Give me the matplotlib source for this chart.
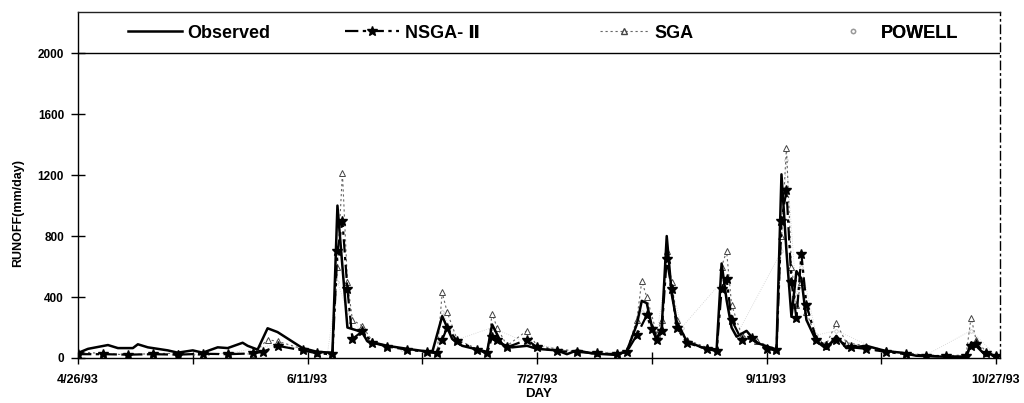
import matplotlib
matplotlib.use("Agg")
import matplotlib.pyplot as plt
from matplotlib.lines import Line2D

# ---- data (day offset from 4/26/93, runoff mm/day) ----
obs_days = [0, 2, 6, 8, 11, 12, 14, 18, 20, 23, 25, 28, 30, 33, 34, 36, 38, 40, 45, 48,
            51, 52, 54, 56, 57, 58, 62, 66, 71, 73, 75, 77, 82, 83, 85, 87, 90, 92, 96, 98,
            100, 103, 108, 110, 112, 113, 114, 115, 116, 117, 118, 119, 120, 122, 125, 128,
            129, 130, 131, 132, 134, 136, 140, 141, 142, 143, 144, 145, 146, 148, 150, 152,
            154, 158, 162, 165, 168, 172, 178, 179, 180, 182, 183, 184]
obs_vals = [33, 60, 85, 65, 65, 90, 70, 50, 35, 50, 35, 70, 65, 100, 80, 55, 195, 170, 65, 40,
            35, 1000, 200, 180, 165, 110, 80, 60, 38, 275, 125, 80, 40, 220, 90, 70, 80, 60, 50, 25,
            50, 30, 20, 45, 220, 375, 360, 210, 125, 200, 800, 420, 240, 110, 70, 55,
            620, 380, 200, 140, 178, 100, 55, 1205, 700, 270, 570, 520, 250, 110, 60, 145,
            65, 80, 45, 35, 15, 10, 5, 100, 80, 15, 25, 0]

nsga_days = [0, 5, 10, 15, 20, 25, 30, 35, 37, 40, 45, 48, 51, 52, 53, 54, 55, 57, 59, 62,
             66, 70, 72, 73, 74, 76, 80, 82, 83, 84, 86, 90, 92, 96, 100, 104, 108, 110, 112,
             114, 115, 116, 117, 118, 119, 120, 122, 126, 128, 129, 130, 131, 133, 135, 138,
             140, 141, 142, 143, 144, 145, 146, 148, 150, 152, 155, 158, 162, 166, 170, 174,
             178, 179, 180, 182, 184]
nsga_vals = [25, 25, 22, 25, 22, 28, 25, 30, 40, 80, 50, 30, 25, 700, 900, 450, 125, 175, 100, 75,
             55, 40, 30, 120, 200, 110, 55, 30, 140, 120, 70, 120, 70, 45, 40, 30, 25, 40, 150,
             280, 190, 120, 180, 650, 450, 200, 100, 60, 45, 450, 520, 250, 120, 130, 60,
             50, 900, 1100, 500, 260, 680, 350, 120, 80, 120, 70, 60, 40, 25, 15, 10,
             10, 80, 90, 30, 10]

sga_days = [0, 5, 10, 15, 20, 25, 30, 35, 38, 40, 45, 48, 51, 52, 53, 54, 55, 57, 59, 62,
            66, 70, 72, 73, 74, 76, 80, 82, 83, 84, 86, 90, 92, 96, 100, 104, 108, 110, 112,
            113, 114, 116, 117, 118, 119, 120, 122, 126, 128, 129, 130, 131, 133, 136, 140,
            141, 142, 143, 144, 145, 146, 148, 150, 152, 154, 158, 162, 166, 170, 174, 178,
            179, 180, 182, 184]
sga_vals = [40, 30, 20, 30, 30, 15, 35, 25, 120, 110, 60, 35, 30, 600, 1215, 500, 250, 210, 110, 80,
            60, 45, 40, 430, 300, 120, 60, 40, 290, 200, 80, 180, 80, 60, 45, 35, 30, 50, 250,
            505, 400, 160, 250, 700, 500, 250, 120, 70, 60, 600, 700, 350, 150, 110, 60,
            800, 1380, 600, 350, 500, 300, 130, 90, 230, 100, 80, 50, 30, 20, 15, 20,
            265, 120, 40, 20]

powell_days = [0, 10, 20, 30, 40, 50, 52, 54, 58, 65, 72, 73, 76, 83, 90, 100, 110, 113, 116,
               118, 121, 129, 132, 141, 142, 144, 145, 148, 152, 160, 170, 179, 184]
powell_vals = [30, 25, 20, 30, 90, 30, 500, 300, 120, 60, 35, 300, 120, 200, 100, 40, 40, 300, 150,
               600, 200, 500, 150, 700, 1300, 400, 600, 150, 180, 60, 20, 180, 15]

tick_days = [0, 23, 46, 69, 92, 115, 138, 161, 184]
tick_labels = ['4/26/93', '', '6/11/93', '', '7/27/93', '', '9/11/93', '', '10/27/93']
y_ticks = [0, 400, 800, 1200, 1600, 2000]

plt.rcParams['font.family'] = ['Liberation Sans', 'DejaVu Sans', 'Noto Sans CJK SC']
plt.rcParams['font.weight'] = 'bold'

fig = plt.figure(figsize=(10.24, 4.03), dpi=100)
ax = fig.add_axes([78 / 1024, 1 - 358 / 403, (1000 - 78) / 1024, (358 - 12) / 403])

ax.plot(powell_days, powell_vals, color='#d0d0d0', ls=':', lw=0.6, marker='o', ms=2.5,
        mfc='white', mec='#c0c0c0', mew=0.5, zorder=1)
ax.plot(sga_days, sga_vals, color='#666666', ls=(0, (2, 2.5)), lw=0.8, marker='^', ms=4,
        mfc='white', mec='#444444', mew=0.7, zorder=2)
ax.plot(nsga_days, nsga_vals, color='black', ls=(0, (6, 2, 1.5, 2)), lw=1.6, marker='*', ms=7,
        zorder=3)
ax.plot(obs_days, obs_vals, color='black', lw=1.8, zorder=4)

ax.set_xlim(0, 184.8)
ax.set_ylim(0, 2270)
ax.set_xticks(tick_days)
ax.set_xticklabels(tick_labels, fontsize=9, fontweight='bold')
ax.set_yticks(y_ticks)
ax.set_yticklabels([str(v) for v in y_ticks], fontsize=8.5, fontweight='bold')
ax.tick_params(axis='x', direction='inout', length=9, width=1, pad=7)
ax.tick_params(axis='y', direction='inout', length=10, width=1, pad=5)

ax.axhline(2000, color='black', lw=1, zorder=5)
for s in ['left', 'bottom', 'top']:
    ax.spines[s].set_linewidth(1)
ax.spines['top'].set_color('#222222')
ax.spines['right'].set_linestyle((0, (6, 3, 1, 3)))
ax.spines['right'].set_linewidth(1)

ax.set_xlabel('DAY', fontsize=9.5, fontweight='bold')
ax.xaxis.set_label_coords(0.5, -0.088)
ax.set_ylabel('RUNOFF(mm/day)', fontsize=9, fontweight='bold')
ax.yaxis.set_label_coords(-0.058, 0.42)

# legend band above the 2000 line
entries = [
    (Line2D([], [], color='black', lw=1.8), 'Observed', 128, 3.0),
    (Line2D([], [], color='black', ls=(0, (6, 2, 1.5, 2)), lw=1.6, marker='*', ms=7),
     'NSGA- Ⅱ', 345, 3.0),
    (Line2D([], [], color='#666666', ls=(0, (2, 2.5)), lw=0.8, marker='^', ms=5, mfc='white',
            mec='#444444'), 'SGA', 600, 2.7),
    (Line2D([], [], color='#b5b5b5', ls='None', marker='o', ms=3, mfc='white', mec='#999999'),
     'POWELL', 830, 2.5),
]
for handle, label, px, hl in entries:
    xa = (px - 78) / (1000 - 78)
    leg = ax.legend([handle], [label], loc='center left', bbox_to_anchor=(xa, 0.939),
                    frameon=False, borderpad=0, borderaxespad=0, handlelength=hl,
                    handletextpad=0.3, prop={'size': 13, 'weight': 'bold'})
    ax.add_artist(leg)

fig.savefig('out.png', dpi=100)
